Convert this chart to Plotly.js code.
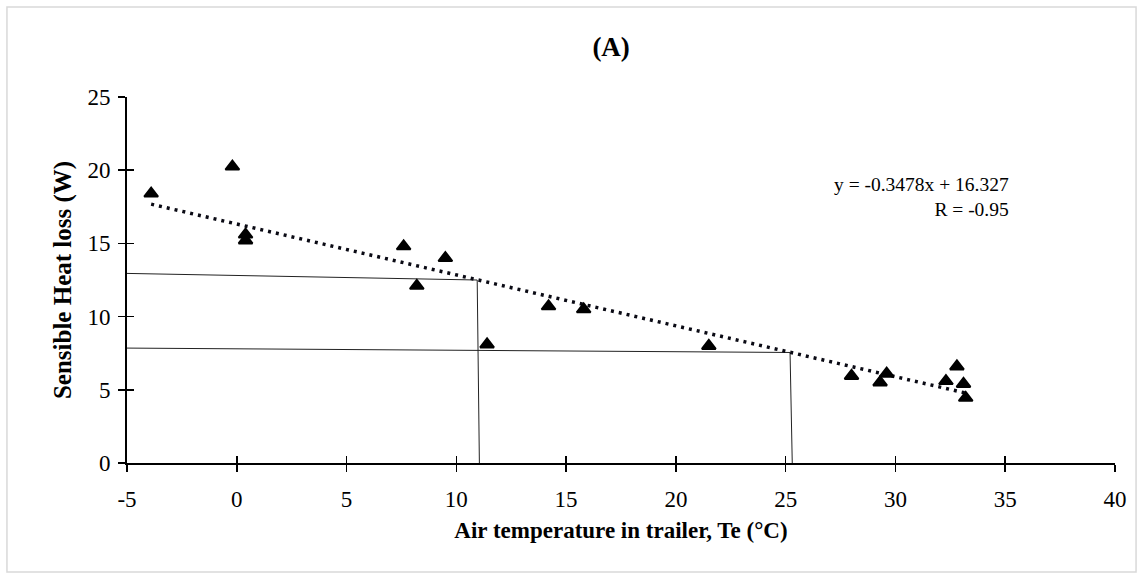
<!DOCTYPE html>
<html>
<head>
<meta charset="utf-8">
<script src="https://cdn.plot.ly/plotly-3.0.1.min.js"></script>
<style>html,body{margin:0;padding:0;background:#fff;}#chart{width:1143px;height:580px;}</style>
</head>
<body>
<div id="chart"></div>
<script>
// Observed data: air temperature in trailer (°C) vs sensible heat loss (W)
const tempX = [-3.9, -0.2, 0.4, 0.4, 7.6, 8.2, 9.5, 11.4, 14.2, 15.8, 21.5, 28.0, 29.3, 29.6, 32.3, 32.8, 33.1, 33.2];
const heatY = [18.4, 20.25, 15.6, 15.2, 14.8, 12.1, 14.0, 8.1, 10.7, 10.5, 8.0, 5.95, 5.5, 6.1, 5.6, 6.6, 5.4, 4.45];

// Linear trendline (y = -0.3478x + 16.327), endpoints
const trendX = [-3.9, 33.2];
const trendY = [17.68, 4.78];

// Guide lines
const guide1X = [-5, 10.95, 11.05];
const guide1Y = [12.95, 12.5, 0];
const guide2X = [-5, 25.2, 25.3];
const guide2Y = [7.85, 7.55, 0];

const xTicks = [-5, 0, 5, 10, 15, 20, 25, 30, 35, 40];
const yTicks = [0, 5, 10, 15, 20, 25];

const titleText = '(A)';
const xTitle = 'Air temperature in trailer, Te (°C)';
const yTitle = 'Sensible Heat loss (W)';
const eqText = 'y = -0.3478x + 16.327<br>R = -0.95';

const serif = 'Liberation Serif, Times New Roman, serif';

const traces = [
  {x: guide1X, y: guide1Y, mode: 'lines', line: {color: '#222', width: 1}, hoverinfo: 'skip', showlegend: false},
  {x: guide2X, y: guide2Y, mode: 'lines', line: {color: '#222', width: 1}, hoverinfo: 'skip', showlegend: false},
  {x: trendX, y: trendY, mode: 'lines', line: {color: '#0a0a14', width: 3.5, dash: '3px,5px'}, hoverinfo: 'skip', showlegend: false},
  {x: tempX, y: heatY, mode: 'markers', marker: {symbol: 'triangle-up', size: 12, color: '#000', line: {color: '#000', width: 2}}, showlegend: false},
  {x: [null], y: [null], xaxis: 'x2', yaxis: 'y2', mode: 'markers', hoverinfo: 'skip', showlegend: false}
];

const axisCommon = {
  showgrid: false, zeroline: false,
  ticks: 'outside', ticklen: 7, tickwidth: 1.5, tickcolor: '#000',
  showline: true, linecolor: '#000', linewidth: 2,
  tickfont: {family: serif, size: 23, color: '#000'}
};

const layout = {
  width: 1143, height: 580,
  margin: {l: 127, r: 28, t: 97, b: 117},
  paper_bgcolor: '#fff', plot_bgcolor: '#fff',
  title: {text: '<b>' + titleText + '</b>', font: {family: serif, size: 27, color: '#000'},
          xref: 'paper', x: 0.49, xanchor: 'center', yref: 'container', y: 1 - 47/580, yanchor: 'middle'},
  xaxis: Object.assign({}, axisCommon, {
    range: [-5, 40], tickvals: xTicks, ticktext: xTicks.map(String), ticklabelstandoff: 7,
    title: {text: '<b>' + xTitle + '</b>', font: {family: serif, size: 23, color: '#000'}, standoff: 11}
  }),
  yaxis: Object.assign({}, axisCommon, {
    range: [0, 25], tickvals: yTicks, ticktext: yTicks.map(String), ticklabelstandoff: 3,
    title: {text: '<b>' + yTitle + '</b>', font: {family: serif, size: 25, color: '#000'}, standoff: 9}
  }),
  xaxis2: {overlaying: 'x', anchor: 'y', side: 'bottom', range: [-5, 40], tickvals: xTicks,
           ticks: 'inside', ticklen: 7, tickwidth: 1.5, tickcolor: '#000', showticklabels: false,
           showline: false, showgrid: false, zeroline: false},
  yaxis2: {overlaying: 'y', anchor: 'x', side: 'left', range: [0, 25], tickvals: yTicks,
           ticks: 'inside', ticklen: 7, tickwidth: 1.5, tickcolor: '#000', showticklabels: false,
           showline: false, showgrid: false, zeroline: false},
  annotations: [{
    xref: 'x', yref: 'y', x: 35.26, y: 18.17, xanchor: 'right', yanchor: 'middle', align: 'right',
    text: eqText, showarrow: false, font: {family: serif, size: 19.5, color: '#000'}
  }],
  shapes: [{
    type: 'rect', xref: 'paper', yref: 'paper', x0: -0.1215, x1: 1.0213, y0: -0.2978, y1: 1.2459,
    line: {color: '#d9d9d9', width: 1.5}, layer: 'below'
  }]
};

Plotly.newPlot('chart', traces, layout, {displayModeBar: false, staticPlot: true});
</script>
</body>
</html>
